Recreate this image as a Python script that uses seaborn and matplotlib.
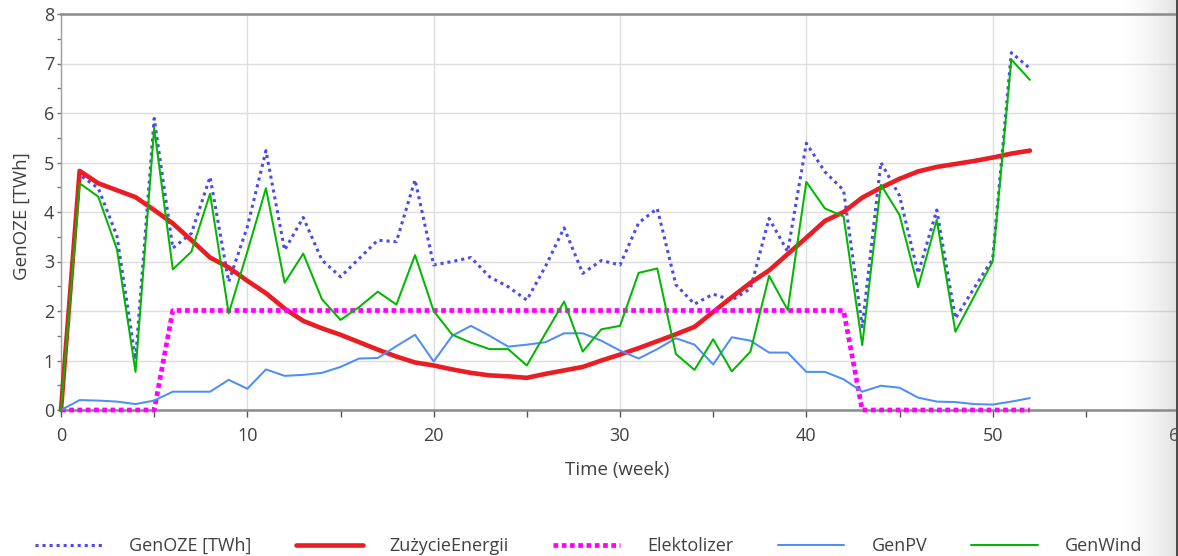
import numpy as np
import matplotlib
matplotlib.use("Agg")
import matplotlib.pyplot as plt
import seaborn as sns
from matplotlib.ticker import MultipleLocator

# Weekly simulation output (TWh)
weeks = list(range(53))

gen_oze = [0.00, 4.75, 4.48, 3.52, 1.02, 5.89, 3.27, 3.57, 4.71, 2.59,
           3.70, 5.24, 3.23, 3.89, 3.03, 2.69, 3.06, 3.43, 3.40, 4.65,
           2.93, 3.00, 3.08, 2.69, 2.49, 2.22, 2.90, 3.68, 2.76, 3.02,
           2.93, 3.78, 4.07, 2.53, 2.14, 2.34, 2.22, 2.45, 3.87, 3.20,
           5.39, 4.81, 4.44, 1.68, 5.00, 4.33, 2.76, 4.04, 1.85, 2.46,
           3.05, 7.22, 6.90]

zuzycie_energii = [0.00, 4.83, 4.58, 4.44, 4.30, 4.04, 3.77, 3.43, 3.08, 2.88,
                   2.61, 2.36, 2.05, 1.80, 1.65, 1.52, 1.37, 1.22, 1.08, 0.96,
                   0.90, 0.82, 0.75, 0.70, 0.68, 0.65, 0.73, 0.80, 0.87, 1.00,
                   1.12, 1.25, 1.39, 1.53, 1.68, 1.98, 2.28, 2.57, 2.82, 3.15,
                   3.48, 3.82, 4.00, 4.29, 4.49, 4.67, 4.82, 4.91, 4.97, 5.03,
                   5.10, 5.18, 5.24]

elektolizer = [0.00, 0.00, 0.00, 0.00, 0.00, 0.00, 2.01, 2.01, 2.01, 2.01,
               2.01, 2.01, 2.01, 2.01, 2.01, 2.01, 2.01, 2.01, 2.01, 2.01,
               2.01, 2.01, 2.01, 2.01, 2.01, 2.01, 2.01, 2.01, 2.01, 2.01,
               2.01, 2.01, 2.01, 2.01, 2.01, 2.01, 2.01, 2.01, 2.01, 2.01,
               2.01, 2.01, 2.01, 0.00, 0.00, 0.00, 0.00, 0.00, 0.00, 0.00,
               0.00, 0.00, 0.00]

gen_pv = [0.00, 0.20, 0.19, 0.17, 0.12, 0.19, 0.37, 0.37, 0.37, 0.61,
          0.43, 0.82, 0.69, 0.71, 0.75, 0.87, 1.04, 1.05, 1.29, 1.52,
          0.98, 1.50, 1.70, 1.50, 1.28, 1.32, 1.37, 1.55, 1.55, 1.40,
          1.20, 1.04, 1.23, 1.45, 1.32, 0.92, 1.47, 1.40, 1.16, 1.16,
          0.77, 0.77, 0.62, 0.37, 0.49, 0.45, 0.25, 0.17, 0.16, 0.12,
          0.11, 0.17, 0.24]

gen_wind = [0.00, 4.58, 4.31, 3.25, 0.77, 5.70, 2.84, 3.20, 4.37, 1.95,
            3.20, 4.48, 2.57, 3.16, 2.24, 1.82, 2.08, 2.39, 2.13, 3.13,
            2.00, 1.52, 1.36, 1.23, 1.23, 0.90, 1.55, 2.19, 1.18, 1.63,
            1.70, 2.77, 2.86, 1.13, 0.81, 1.43, 0.78, 1.18, 2.71, 2.02,
            4.61, 4.07, 3.91, 1.31, 4.55, 3.94, 2.48, 3.84, 1.58, 2.29,
            3.00, 7.08, 6.67]

series_names = ["GenOZE [TWh]", "ZużycieEnergii", "Elektolizer", "GenPV", "GenWind"]

sns.set_theme(style="whitegrid")
plt.rcParams["font.family"] = ["Open Sans", "DejaVu Sans"]

W, H = 1178, 556
fig = plt.figure(figsize=(W / 100, H / 100), dpi=100)
ax = fig.add_axes([61 / W, 146 / H, 1118 / W, 396 / H])

styles = [
    dict(color="#4a4af0", linewidth=2.2, linestyle=(0, (1.0, 1.3))),
    dict(color="#ea1c24", linewidth=3.3, linestyle="-"),
    dict(color="#ff00ff", linewidth=3.4, linestyle=(0, (1.0, 0.75))),
    dict(color="#4d8ef7", linewidth=1.45, linestyle="-"),
    dict(color="#00b800", linewidth=1.45, linestyle="-"),
]
values = [gen_oze, zuzycie_energii, elektolizer, gen_pv, gen_wind]

for name, vals, st in zip(series_names, values, styles):
    sns.lineplot(x=weeks, y=vals, ax=ax, label=name, clip_on=False,
                 zorder=3, **st)

ax.set_xlim(0, 60)
ax.set_ylim(0, 8)
ax.xaxis.set_major_locator(MultipleLocator(10))
ax.xaxis.set_minor_locator(MultipleLocator(5))
ax.yaxis.set_major_locator(MultipleLocator(1))
ax.yaxis.set_minor_locator(MultipleLocator(0.5))

ax.grid(which="major", color="#dedede", linewidth=1.0)
ax.grid(which="minor", visible=False)
ax.set_axisbelow(True)

ax.tick_params(axis="x", which="major", bottom=True, direction="out",
               length=5, width=1, color="#555555", labelcolor="#404040",
               labelsize=13, pad=7)
ax.tick_params(axis="x", which="minor", bottom=True, direction="out",
               length=5, width=1, color="#555555")
ax.tick_params(axis="y", which="major", left=True, direction="out",
               length=3, width=1, color="#777777", labelcolor="#404040",
               labelsize=13, pad=2)
ax.tick_params(axis="y", which="minor", left=True, direction="out",
               length=3, width=1, color="#777777")

for side in ("top", "bottom"):
    ax.spines[side].set_color("#8a8a8a")
    ax.spines[side].set_linewidth(1.8)
ax.spines["left"].set_color("#a0a0a0")
ax.spines["left"].set_linewidth(1.0)
ax.spines["right"].set_visible(False)

ax.set_xlabel("Time (week)", fontsize=13.5, color="#404040")
ax.set_ylabel("GenOZE [TWh]", fontsize=13.5, color="#404040")
ax.xaxis.set_label_coords((617 - 61) / 1118, (410 - 461) / 396)
ax.yaxis.set_label_coords((31 - 61) / 1118, (410 - 216) / 396)

handles, labels = ax.get_legend_handles_labels()
ax.get_legend().remove()
fig.legend(handles, labels, loc="center", bbox_to_anchor=(0.5, 10 / H),
           ncol=5, frameon=False, fontsize=13, handlelength=3.7,
           handletextpad=1.5, columnspacing=2.45, labelcolor="#404040")

# soft shadow along the right border
shade = fig.add_axes([1114 / W, 0, 64 / W, 1], zorder=10)
n = 64
ramp = np.linspace(0, 1, n) ** 1.8
rgba = np.zeros((1, n, 4))
rgba[..., :3] = 0.55
rgba[..., 3] = ramp * 0.26
rgba[0, -2:, :3] = 0.3
rgba[0, -2:, 3] = 1.0
shade.imshow(rgba, aspect="auto", interpolation="bilinear")
shade.axis("off")

fig.savefig("out.png", dpi=100, facecolor="white")
